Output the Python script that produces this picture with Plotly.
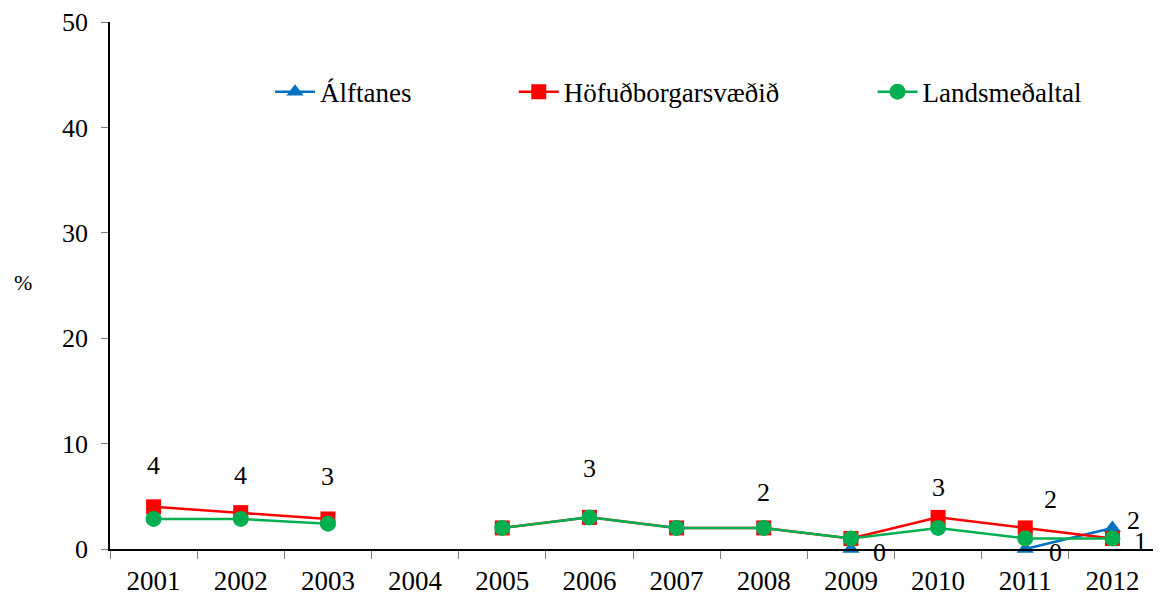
import plotly.graph_objects as go

years = ['2001', '2002', '2003', '2004', '2005', '2006', '2007', '2008', '2009', '2010', '2011', '2012']
alftanes = [None, None, None, None, None, None, None, None, 0, None, 0, 2]
hofudborg = [4.0, 3.45, 2.85, None, 2.0, 3.0, 2.0, 2.0, 1.0, 3.0, 2.0, 1.0]
landsmedaltal = [2.85, 2.85, 2.4, None, 2.0, 3.0, 2.0, 2.0, 1.0, 2.0, 1.0, 1.0]

# data labels as they sit in the original
hofud_labels = ['4', '4', '3', None, None, '3', None, '2', None, '3', '2', '1']
alft_labels = [None, None, None, None, None, None, None, None, '0', None, '0', '2']

# label offsets in px (xshift, yshift)
hofud_off = [(0, 41), (0, 37), (0, 42), None, None, (0, 49), None, (0, 35), None, (0, 30), (25, 28), (28, -3)]
alft_off = [None] * 8 + [(29, -3), None, (30, -3), (21, 7)]

font = 'Times New Roman, Liberation Serif, serif'
fs = 26
blue, red, green = '#0070C0', '#FF0000', '#00B050'

fig = go.Figure()
fig.add_scatter(x=years, y=alftanes, name='Álftanes', mode='lines+markers',
                line=dict(color=blue, width=2.5),
                marker=dict(symbol='triangle-up', size=15, color=blue),
                cliponaxis=False, legend='legend')
fig.add_scatter(x=years, y=hofudborg, name='Höfuðborgarsvæðið', mode='lines+markers',
                line=dict(color=red, width=2.5),
                marker=dict(symbol='square', size=15, color=red),
                cliponaxis=False, legend='legend2')
fig.add_scatter(x=years, y=landsmedaltal, name='Landsmeðaltal', mode='lines+markers',
                line=dict(color=green, width=2.5),
                marker=dict(symbol='circle', size=16, color=green),
                cliponaxis=False, legend='legend3')

# category axis: annotations are placed by category index
for labels, vals, offs in [(hofud_labels, hofudborg, hofud_off), (alft_labels, alftanes, alft_off)]:
    for i, (lab, v, off) in enumerate(zip(labels, vals, offs)):
        if lab is None:
            continue
        fig.add_annotation(x=i, y=v, text=lab, showarrow=False,
                           xshift=off[0], yshift=off[1],
                           font=dict(family=font, size=fs, color='black'))

fig.add_annotation(xref='paper', yref='paper', x=-0.094, y=0.505, text='%',
                   showarrow=False, font=dict(family=font, size=22, color='black'))

leg = dict(orientation='h', yanchor='middle', y=0.867, xanchor='left', itemwidth=40,
           bgcolor='rgba(0,0,0,0)', font=dict(family=font, size=27, color='black'))

# page body adds an 8px offset, so the figure is a bit smaller than the window
fig.update_layout(
    width=1153, height=600,
    margin=dict(l=102, r=5, t=14, b=59, autoexpand=False),
    paper_bgcolor='white', plot_bgcolor='white',
    font=dict(family=font, size=fs, color='black'),
    showlegend=True,
    legend=dict(leg, x=0.153),
    legend2=dict(leg, x=0.386),
    legend3=dict(leg, x=0.729),
    xaxis=dict(type='category', range=[-0.5, 11.5], tickson='boundaries', ticks='outside',
               ticklen=8, tickcolor='#808080', showline=True, linecolor='black', linewidth=1.5,
               showgrid=False, tickangle=0, ticklabelstandoff=7,
               tickfont=dict(family=font, size=27)),
    yaxis=dict(range=[0, 50], dtick=10, ticks='outside', ticklen=7, tickcolor='#808080',
               showline=True, linecolor='black', linewidth=1.5, showgrid=False,
               zeroline=False, ticklabelstandoff=8, tickfont=dict(family=font, size=fs)),
)

fig.write_html('out.html')
